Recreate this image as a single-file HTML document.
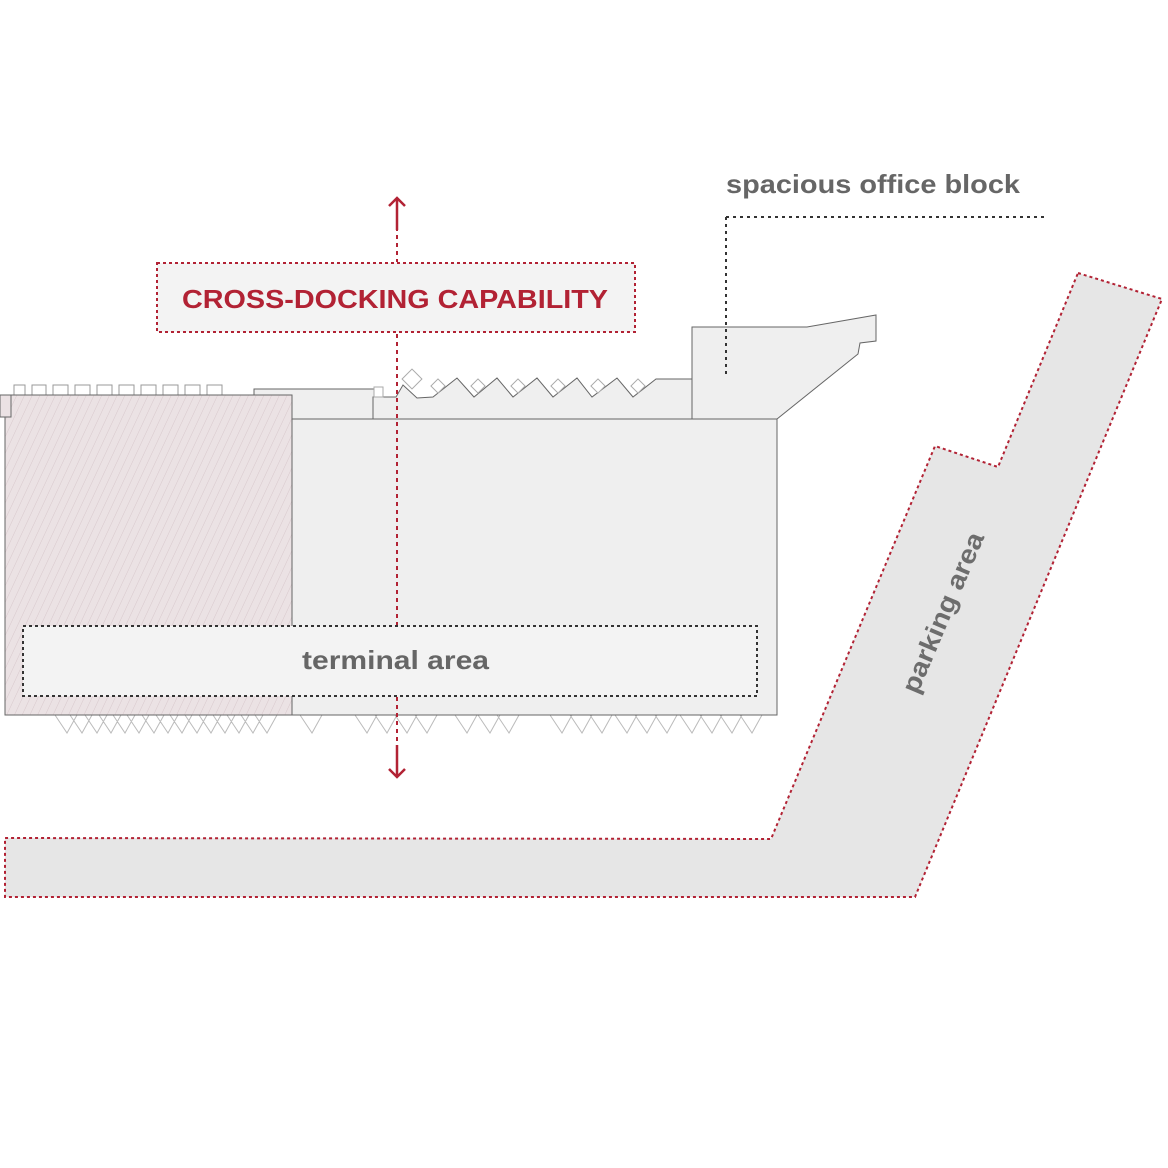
<!DOCTYPE html>
<html><head><meta charset="utf-8"><style>html,body{margin:0;padding:0;background:#fff}svg{display:block}</style></head>
<body>
<svg width="1168" height="1168" viewBox="0 0 1168 1168" xmlns="http://www.w3.org/2000/svg">
<defs>
<pattern id="h" width="7" height="7" patternUnits="userSpaceOnUse" patternTransform="rotate(25)">
<rect width="7" height="7" fill="#ebe2e4"/><line x1="0" y1="0" x2="0" y2="7" stroke="#d8c8cc" stroke-width="1"/>
</pattern>
</defs>
<!-- parking -->
<polygon points="1078,273 1162,299 915,897 5,897 5,838 771,839 935,446 998,467" fill="#e6e6e6" stroke="#b22234" stroke-width="2" stroke-dasharray="3,3"/>
<text x="0" y="0" transform="translate(951,616) rotate(-67)" text-anchor="middle" font-family="Liberation Sans, sans-serif" font-weight="bold" font-size="26" fill="#6d6d6d" textLength="172" lengthAdjust="spacingAndGlyphs">parking area</text>
<!-- top small squares -->
<g fill="#fff" stroke="#999" stroke-width="1">
<rect x="14" y="385" width="11" height="10"/><rect x="32" y="385" width="14" height="10"/><rect x="53" y="385" width="15" height="10"/><rect x="75" y="385" width="15" height="10"/><rect x="97" y="385" width="15" height="10"/><rect x="119" y="385" width="15" height="10"/><rect x="141" y="385" width="15" height="10"/><rect x="163" y="385" width="15" height="10"/><rect x="185" y="385" width="15" height="10"/><rect x="207" y="385" width="15" height="10"/>
</g>
<!-- dock chevrons bottom -->
<g fill="#fff" stroke="#bbb" stroke-width="1">
<path d="M55,715 l12,18 l10,-18 M70,715 l12,18 l10,-18 M85,715 l12,18 l10,-18 M99,715 l12,18 l10,-18 M113,715 l12,18 l10,-18 M127,715 l12,18 l10,-18 M142,715 l12,18 l10,-18 M156,715 l12,18 l10,-18 M170,715 l12,18 l10,-18 M185,715 l12,18 l10,-18 M199,715 l12,18 l10,-18 M213,715 l12,18 l10,-18 M227,715 l12,18 l10,-18 M241,715 l12,18 l10,-18 M255,715 l12,18 l10,-18 M300,715 l12,18 l10,-18 M355,715 l12,18 l10,-18 M375,715 l12,18 l10,-18 M395,715 l12,18 l10,-18 M415,715 l12,18 l10,-18 M455,715 l12,18 l10,-18 M478,715 l12,18 l10,-18 M497,715 l12,18 l10,-18 M550,715 l12,18 l10,-18 M570,715 l12,18 l10,-18 M590,715 l12,18 l10,-18 M615,715 l12,18 l10,-18 M635,715 l12,18 l10,-18 M655,715 l12,18 l10,-18 M680,715 l12,18 l10,-18 M700,715 l12,18 l10,-18 M720,715 l12,18 l10,-18 M740,715 l12,18 l10,-18"/>
</g>
<!-- main building -->
<rect x="254" y="389" width="120" height="30" fill="#efefef" stroke="#666" stroke-width="1"/>
<polygon points="373,419 373,397 396,397 403,385 417,398 433,397 457,378 474,397 497,378 513,397 537,378 553,397 577,378 592,397 617,378 633,397 656,379 692,379 692,419" fill="#efefef" stroke="#666" stroke-width="1"/>
<g fill="#fff" stroke="#aaa" stroke-width="1">
<rect x="374" y="387" width="9" height="10"/>
<rect x="405" y="372" width="14" height="14" transform="rotate(45 412 379)"/>
<rect x="433" y="381" width="10" height="10" transform="rotate(45 438 386)"/>
<rect x="473" y="381" width="10" height="10" transform="rotate(45 478 386)"/>
<rect x="513" y="381" width="10" height="10" transform="rotate(45 518 386)"/>
<rect x="553" y="381" width="10" height="10" transform="rotate(45 558 386)"/>
<rect x="593" y="381" width="10" height="10" transform="rotate(45 598 386)"/>
<rect x="633" y="381" width="10" height="10" transform="rotate(45 638 386)"/>
</g>
<polygon points="692,419 692,327 807,327 876,315 876,341 860,343 858,354 777,419" fill="#efefef" stroke="#666" stroke-width="1"/>
<rect x="5" y="419" width="772" height="296" fill="#efefef" stroke="#666" stroke-width="1"/>
<rect x="5" y="395" width="287" height="320" fill="url(#h)" stroke="#666" stroke-width="1"/>
<rect x="0" y="395" width="11" height="22" fill="#ebe2e4" stroke="#666" stroke-width="1"/>
<!-- office dotted leader -->
<path d="M726,217 H1045 M726,217 V375" fill="none" stroke="#333" stroke-width="2" stroke-dasharray="3,4"/>
<text x="726" y="193" font-family="Liberation Sans, sans-serif" font-weight="bold" font-size="26" fill="#666" textLength="294" lengthAdjust="spacingAndGlyphs">spacious office block</text>
<!-- red axis -->
<path d="M397,203 V262 M397,334 V625 M397,697 V775" stroke="#b22234" stroke-width="2" stroke-dasharray="4,4" fill="none"/>
<path d="M397,198 V230 M389,206 L397,198 L405,206" stroke="#b22234" stroke-width="2.5" fill="none"/>
<path d="M397,745 V777 M389,769 L397,777 L405,769" stroke="#b22234" stroke-width="2.5" fill="none"/>
<!-- cross docking box -->
<rect x="157" y="263" width="478" height="69" fill="#f3f3f3" stroke="#b22234" stroke-width="2" stroke-dasharray="3,3"/>
<text x="182" y="308" font-family="Liberation Sans, sans-serif" font-weight="bold" font-size="26" fill="#b22234" textLength="426" lengthAdjust="spacingAndGlyphs">CROSS-DOCKING CAPABILITY</text>
<!-- terminal area -->
<rect x="23" y="626" width="734" height="70" fill="#f3f3f3" stroke="#333" stroke-width="2" stroke-dasharray="3,3"/>
<text x="302" y="669" font-family="Liberation Sans, sans-serif" font-weight="bold" font-size="26" fill="#666" textLength="187" lengthAdjust="spacingAndGlyphs">terminal area</text>
</svg>
</body></html>
